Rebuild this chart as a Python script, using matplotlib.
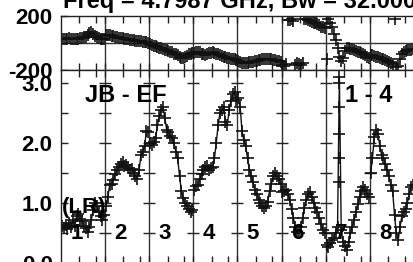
import numpy as np
import matplotlib
matplotlib.use("Agg")
import matplotlib.pyplot as plt
from matplotlib.ticker import NullFormatter

# ---------------- data ----------------
title = "Freq = 4.7987 GHz, Bw = 32.000 MHz"
baseline_label = "JB - EF"
range_label = "1 - 4"
pol_label = "(LR)"
subband_labels = ["1", "2", "3", "4", "5", "6", "7", "8"]
n_chan = 24

amp_sb1 = [0.62, 0.58, 0.63, 0.57, 0.66, 0.60, 0.72, 0.62, 0.78, 0.82, 0.74, 0.70,
           0.62, 0.58, 0.52, 0.60, 0.72, 0.88, 1.00, 0.95, 0.85, 0.78, 0.72, 0.80]
amp_sb2 = [0.95, 1.10, 1.30, 1.32, 1.38, 1.48, 1.55, 1.60, 1.65, 1.68, 1.62, 1.64,
           1.58, 1.55, 1.57, 1.50, 1.45, 1.40, 1.55, 1.80, 1.85, 1.95, 2.20, 2.18]
amp_sb3 = [2.00, 1.97, 2.02, 2.08, 2.30, 2.45, 2.55, 2.60, 2.42, 2.22, 2.18, 2.12,
           2.08, 2.00, 1.85, 1.75, 1.45, 1.20, 1.08, 1.00, 0.95, 0.90, 0.85, 0.88]
amp_sb4 = [1.22, 1.28, 1.30, 1.40, 1.48, 1.55, 1.60, 1.62, 1.55, 1.58, 1.60, 1.75,
           2.00, 2.30, 2.50, 2.55, 2.60, 2.35, 2.30, 2.55, 2.70, 2.82, 2.85, 2.72]
amp_sb5 = [2.75, 2.60, 2.20, 2.05, 1.95, 1.75, 1.55, 1.45, 1.35, 1.22, 1.15, 1.05,
           1.00, 0.95, 0.92, 0.95, 1.02, 1.20, 1.32, 1.45, 1.50, 1.45, 1.40, 1.32]
amp_sb6 = [1.18, 1.20, 1.22, 1.15, 1.05, 0.90, 0.75, 0.60, 0.52, 0.50, 0.60, 0.75,
           0.92, 1.05, 1.15, 1.18, 1.10, 1.00, 0.92, 0.85, 0.75, 0.65, 0.55, 0.50]
amp_sb7 = [0.30, 0.27, 0.33, 0.38, 0.42, 0.50, 0.60, 3.10, 0.55, 0.35, 0.28, 0.22,
           0.35, 0.50, 0.60, 0.72, 0.85, 0.98, 1.10, 1.20, 1.27, 1.22, 1.15, 1.10]
amp_sb8 = [1.50, 1.75, 2.10, 2.22, 2.15, 1.95, 1.80, 1.75, 1.65, 1.55, 1.45, 1.30,
           1.20, 0.80, 0.50, 0.38, 0.60, 0.78, 0.85, 0.90, 1.00, 1.15, 1.27, 1.30]

# extra samples lying on the spike of subband 7 (channel 7)
spike_subband = 6
spike_channel = 7
spike_amp = [3.00, 2.60, 2.15, 1.75, 1.35]

phase_sb1 = [30, 28, 32, 30, 35, 28, 32, 30, 33, 31, 35, 40,
             42, 48, 60, 72, 80, 70, 55, 42, 35, 30, 28, 30]
phase_sb2 = [62, 60, 58, 55, 50, 47, 44, 40, 38, 35, 32, 30,
             27, 25, 22, 20, 18, 15, 15, 12, 10, 10, 5, 2]
phase_sb3 = [-10, -15, -20, -25, -30, -35, -40, -45, -50, -55, -60, -65,
             -70, -78, -85, -92, -100, -108, -112, -105, -95, -85, -78, -75]
phase_sb4 = [-72, -68, -65, -70, -78, -85, -88, -82, -75, -72, -70, -75,
             -80, -85, -90, -95, -100, -105, -108, -112, -115, -118, -122, -125]
phase_sb5 = [-135, -140, -145, -150, -148, -145, -142, -140, -138, -135, -132, -128,
             -125, -122, -120, -118, -116, -118, -120, -125, -128, -132, -135, -140]
phase_sb6 = [-165, -170, -158, 172, 168, 175, 165, -162, -150, -155, -165, -145,
             178, 175, 170, 165, 158, 150, 145, 138, 130, 122, 115, 108]
phase_sb7 = [-120, 178, 150, 115, 70, 20, -40, -100, -135, -110, -60, -35,
             -40, -45, -48, -55, -60, -65, -70, -75, -82, -90, -100, -108]
phase_sb8 = [-88, -92, -95, -100, -105, -110, -115, -120, -128, -135, -140, -148,
             -155, 175, -175, -170, -120, -80, -65, -60, -55, -50, -52, -48]

amp_ticks = [0.0, 1.0, 2.0, 3.0]
amp_ticklabels = ["0.0", "1.0", "2.0", "3.0"]
phase_ticks = [-200, 200]
phase_ticklabels = ["-200", "200"]

amps = [amp_sb1, amp_sb2, amp_sb3, amp_sb4, amp_sb5, amp_sb6, amp_sb7, amp_sb8]
phases = [phase_sb1, phase_sb2, phase_sb3, phase_sb4, phase_sb5, phase_sb6, phase_sb7, phase_sb8]

# ---------------- figure ----------------
plt.rcParams["font.family"] = ["Liberation Sans", "DejaVu Sans"]
plt.rcParams["font.weight"] = "bold"

W, H = 413, 262
fig = plt.figure(figsize=(W / 100, H / 100), dpi=100)
fig.patch.set_facecolor("white")

left = 61 / W
width = 8 * 44.1 / W
ax_p = fig.add_axes([left, (H - 70) / H, width, 54 / H])
ax_a = fig.add_axes([left, (H - 263) / H, width, 193 / H])

nsb = len(subband_labels)
xmax = nsb * n_chan
bounds = np.arange(1, nsb) * n_chan
minor = np.concatenate([[s * n_chan + 10, s * n_chan + 19] for s in range(nsb)])

fs = 16
mk = dict(marker="+", markersize=8.5, markeredgewidth=1.2, color="#111111")

for s in range(nsb):
    x = s * n_chan + np.arange(n_chan) + 0.5
    ax_a.plot(x, amps[s], linestyle="-", linewidth=1.0, **mk)
    ax_p.plot(x, phases[s], linestyle="none", **mk)

xs = spike_subband * n_chan + spike_channel + 0.5
ax_a.plot([xs] * len(spike_amp), spike_amp, linestyle="none", **mk)

for ax in (ax_p, ax_a):
    ax.set_xlim(0, xmax)
    for b in bounds:
        ax.axvline(b, color="#333333", linewidth=1.0, zorder=1)
    for sp in ax.spines.values():
        sp.set_linewidth(1.0)
        sp.set_color("#222222")
    ax.set_xticks(list(bounds))
    ax.set_xticks(list(minor), minor=True)
    ax.xaxis.set_major_formatter(NullFormatter())
    ax.xaxis.set_minor_formatter(NullFormatter())
    ax.tick_params(axis="both", which="both", direction="in", top=True, bottom=True,
                   left=True, right=False, length=5, width=1.0, color="#222222")
    ax.tick_params(axis="y", labelsize=fs, pad=6)

ax_p.set_ylim(-200, 200)
ax_p.set_yticks(phase_ticks, phase_ticklabels, fontweight="bold")
ax_p.axhline(0, color="#333333", linewidth=1.0, zorder=1)

ax_a.set_ylim(0, 3.217)
ax_a.set_yticks(amp_ticks, amp_ticklabels, fontweight="bold")
ax_a.set_yticks(np.arange(0.5, 3.2, 1.0), minor=True)
ax_a.tick_params(axis="y", which="minor", length=5)
# short ticks across each subband boundary
tick_vals = np.arange(0.5, 3.2, 0.5)
for b in bounds:
    ax_a.plot([b] * len(tick_vals), tick_vals, linestyle="none", marker="_",
              markersize=8, markeredgewidth=1.0, color="#222222", zorder=1)

for s, lab in enumerate(subband_labels):
    ax_a.text(s * n_chan + 8.4, 0.5, lab, ha="center", va="center",
              fontsize=fs, fontweight="bold")

ax_a.text(13.1, 2.8, baseline_label, ha="left", va="center", fontsize=17, fontweight="bold")
ax_a.text(154.6, 2.8, range_label, ha="left", va="center", fontsize=17, fontweight="bold")
ax_a.text(0.5, 0.92, pol_label, ha="left", va="center", fontsize=fs, fontweight="bold")

fig.text(63 / W, 1 - 8 / H, title, ha="left", va="baseline", fontsize=17, fontweight="bold")

fig.savefig("out.png", dpi=100)
